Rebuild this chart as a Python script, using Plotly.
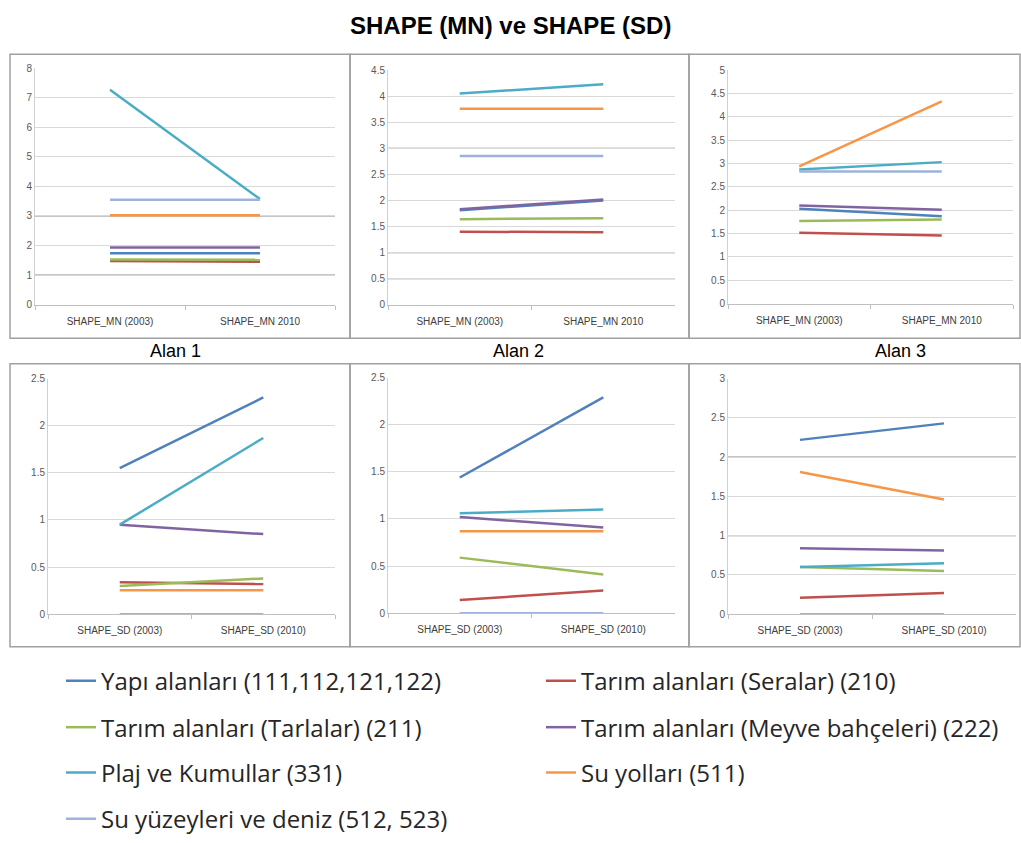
import plotly.graph_objects as go

W, H = 1021, 843

# Land-cover classes (series), in drawing order
series_names = [
    "Yapı alanları (111,112,121,122)",
    "Tarım alanları (Seralar) (210)",
    "Tarım alanları (Tarlalar) (211)",
    "Tarım alanları (Meyve bahçeleri) (222)",
    "Plaj ve Kumullar (331)",
    "Su yolları (511)",
    "Su yüzeyleri ve deniz (512, 523)",
]
series_colors = ["#4F81BD", "#C0504D", "#9BBB59", "#8064A2", "#4BACC6", "#F79646", "#9DB3DC"]

categories_mn = ["SHAPE_MN (2003)", "SHAPE_MN 2010"]
categories_sd = ["SHAPE_SD (2003)", "SHAPE_SD (2010)"]

# SHAPE_MN values, one entry per series
mn_alan1_2003 = [1.74, 1.48, 1.53, 1.93, 7.27, 3.02, 3.55]
mn_alan1_2010 = [1.74, 1.45, 1.52, 1.93, 3.57, 3.02, 3.55]
mn_alan2_2003 = [1.81, 1.40, 1.64, 1.83, 4.05, 3.76, 2.85]
mn_alan2_2010 = [2.00, 1.39, 1.66, 2.02, 4.23, 3.76, 2.85]
mn_alan3_2003 = [2.03, 1.52, 1.77, 2.10, 2.87, 2.94, 2.83]
mn_alan3_2010 = [1.87, 1.46, 1.80, 2.01, 3.03, 4.33, 2.83]

# SHAPE_SD values, one entry per series
sd_alan1_2003 = [1.55, 0.34, 0.30, 0.95, 0.95, 0.255, 0.0]
sd_alan1_2010 = [2.30, 0.32, 0.38, 0.85, 1.87, 0.255, 0.0]
sd_alan2_2003 = [1.44, 0.14, 0.59, 1.02, 1.06, 0.87, 0.0]
sd_alan2_2010 = [2.29, 0.24, 0.41, 0.91, 1.10, 0.87, 0.0]
sd_alan3_2003 = [2.22, 0.21, 0.60, 0.84, 0.60, 1.81, 0.0]
sd_alan3_2010 = [2.43, 0.27, 0.55, 0.81, 0.65, 1.46, 0.0]

panel_titles = ["Alan 1", "Alan 2", "Alan 3"]

# panel: (categories, 2003 values, 2010 values, y max, y step,
#         plot box in px (left, right, top, bottom), darker gridlines)
panels = [
    (categories_mn, mn_alan1_2003, mn_alan1_2010, 8, 1, (35, 335, 63, 303), [1, 3]),
    (categories_mn, mn_alan2_2003, mn_alan2_2010, 4.5, 0.5, (388, 675, 65, 303), [0.5, 1, 3]),
    (categories_mn, mn_alan3_2003, mn_alan3_2010, 5, 0.5, (728, 1013, 65, 302), []),
    (categories_sd, sd_alan1_2003, sd_alan1_2010, 2.5, 0.5, (48, 335, 378, 617), []),
    (categories_sd, sd_alan2_2003, sd_alan2_2010, 2.5, 0.5, (388, 675, 377, 616), []),
    (categories_sd, sd_alan3_2003, sd_alan3_2010, 3, 0.5, (728, 1016, 378, 617), [1, 2]),
]

legend_of_series = ["legend", "legend", "legend2", "legend2", "legend3", "legend3", "legend4"]

fig = go.Figure()
shapes = []
layout_axes = {}

for p, (cats, v03, v10, ymax, ystep, box, dark_lines) in enumerate(panels):
    n = p + 1
    xa = "x" if n == 1 else f"x{n}"
    ya = "y" if n == 1 else f"y{n}"
    for s, name in enumerate(series_names):
        fig.add_trace(go.Scatter(
            x=cats, y=[v03[s], v10[s]],
            mode="lines", name=name,
            line=dict(color=series_colors[s], width=2.5),
            xaxis=xa, yaxis=ya,
            showlegend=(p == 0), legend=legend_of_series[s],
            hoverinfo="skip",
        ))
    left, right, top, bottom = box
    layout_axes["xaxis" if n == 1 else f"xaxis{n}"] = dict(
        domain=[left / W, right / W], anchor=ya,
        type="category", range=[-0.5, 1.5],
        showline=True, linecolor="#bfbfbf", linewidth=1,
        ticks="outside", tickson="boundaries", ticklen=4, tickcolor="#bfbfbf",
        ticklabelstandoff=7,
        showgrid=False, zeroline=False,
        tickfont=dict(family="Liberation Sans", size=10, color="#404040"),
    )
    layout_axes["yaxis" if n == 1 else f"yaxis{n}"] = dict(
        domain=[1 - bottom / H, 1 - top / H], anchor=xa,
        range=[0, ymax], dtick=ystep, tick0=0,
        showline=True, linecolor="#d0d0d0", linewidth=1,
        showgrid=True, gridcolor="#d9d9d9", gridwidth=1,
        zeroline=False, ticks="",
        tickfont=dict(family="Liberation Sans", size=10, color="#595959"),
    )
    for yv in dark_lines:
        shapes.append(dict(
            type="line", xref=f"{xa} domain", yref=ya,
            x0=0, x1=1, y0=yv, y1=yv,
            line=dict(color="#8c8c8c", width=1.2), layer="below",
        ))

# panel frames
col_edges = [(10, 350), (350, 689), (689, 1020)]
row_edges = [(49, 337), (363, 650)]
for (y0, y1) in row_edges:
    for (x0, x1) in col_edges:
        shapes.append(dict(
            type="rect", xref="paper", yref="paper",
            x0=x0 / W, x1=x1 / W, y0=1 - y1 / H, y1=1 - y0 / H,
            line=dict(color="#a0a0a0", width=1.5),
        ))

annotations = [
    dict(text="<b>SHAPE (MN) ve SHAPE (SD)</b>", x=510 / W, y=1 - 20 / H,
         xref="paper", yref="paper", showarrow=False,
         xanchor="center", yanchor="middle",
         font=dict(family="Liberation Sans", size=24, color="#000000")),
]
for (x0, x1), t, cx in zip(col_edges, panel_titles, [175, 518, 900]):
    annotations.append(dict(
        text=t, x=cx / W, y=1 - 350 / H, xref="paper", yref="paper",
        showarrow=False, xanchor="center", yanchor="middle",
        font=dict(family="Liberation Sans", size=18, color="#000000"),
    ))

legend_style = dict(
    orientation="h", xanchor="left", yanchor="middle", x=63 / W,
    entrywidth=435, entrywidthmode="pixels",
    font=dict(family="Open Sans", size=24, color="#262626"),
    bgcolor="rgba(0,0,0,0)", borderwidth=0, itemwidth=30,
)

fig.update_layout(
    width=W, height=H,
    margin=dict(l=0, r=0, t=0, b=0),
    paper_bgcolor="white", plot_bgcolor="white",
    shapes=shapes, annotations=annotations,
    legend=dict(legend_style, y=1 - 685 / H),
    legend2=dict(legend_style, y=1 - 732 / H),
    legend3=dict(legend_style, y=1 - 778 / H),
    legend4=dict(legend_style, y=1 - 825 / H, x=61 / W),
    **layout_axes,
)

fig.write_html("out.html")
